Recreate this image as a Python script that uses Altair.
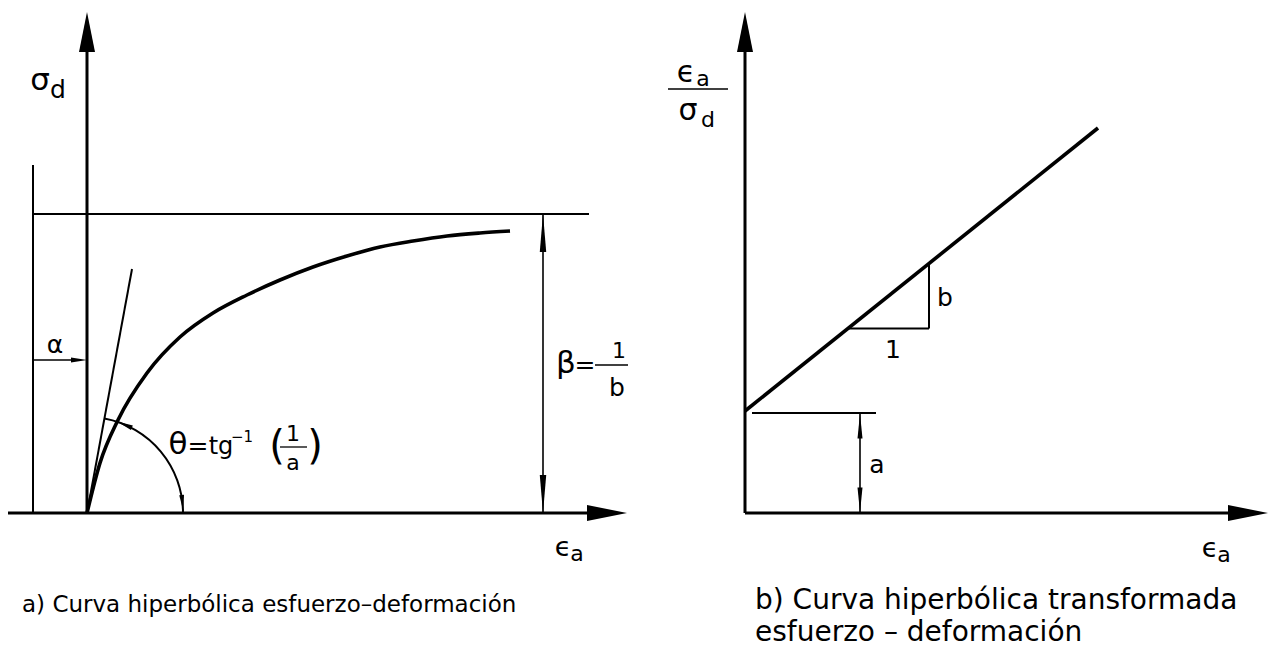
import math
import altair as alt
import pandas as pd

FONT = "DejaVu Sans"
INK = "black"

# ---------------- panel a) hyperbolic stress-strain curve ----------------
# strain (eps_a) and deviator stress (sigma_d), arbitrary units
curve_eps = [0, 13, 31, 60, 93, 126, 160, 193, 226, 260, 293, 326, 360, 393, 423]
curve_sig = [0, 50, 93, 140, 176, 200, 218, 233, 246, 257, 266, 272, 277, 280, 282]
beta_level = 299            # asymptote 1/b
tangent_eps = 45            # initial tangent, slope 1/a
tangent_sig = 244
theta_radius = 96
alpha_level = 153

# ---------------- panel b) transformed hyperbola ----------------
line_eps = [0, 353]
line_ratio = [102, 385]     # eps/sigma = a + b*eps
slope_run = [103, 184]      # the "1" leg of the slope triangle
a_marker_eps = 115

XDOM_A = [-87, 613]
XDOM_B = [-45, 539]
YDOM = [-144, 513]

NO_FRAME = alt.ViewBackground(stroke="transparent", strokeWidth=0)


def enc_xy(xdom):
    return (alt.X("x:Q", scale=alt.Scale(domain=xdom, nice=False, zero=False), axis=None),
            alt.Y("y:Q", scale=alt.Scale(domain=YDOM, nice=False, zero=False), axis=None))


def segments(rows, xdom, width):
    df = pd.DataFrame(rows, columns=["x", "y", "x2", "y2"])
    x, y = enc_xy(xdom)
    return alt.Chart(df).mark_rule(color=INK, strokeWidth=width, strokeCap="butt").encode(
        x=x, y=y, x2="x2:Q", y2="y2:Q")


def heads(rows, xdom, shape, size):
    df = pd.DataFrame(rows, columns=["x", "y", "rot"])
    x, y = enc_xy(xdom)
    return alt.Chart(df).mark_point(shape=shape, size=size, filled=True, color=INK,
                                    opacity=1, strokeWidth=0).encode(
        x=x, y=y, angle=alt.Angle("rot:Q", scale=None))


def texts(rows, xdom, size, align="center"):
    df = pd.DataFrame(rows, columns=["t", "x", "y"])
    x, y = enc_xy(xdom)
    return alt.Chart(df).mark_text(font=FONT, fontSize=size, align=align,
                                   baseline="middle", color=INK).encode(
        x=x, y=y, text="t:N")


BIG = "M0,-1L0.4,1L-0.4,1Z"
SLIM = "M0,-1L0.17,1L-0.17,1Z"
MID = "M0,-1L0.2,1L-0.2,1Z"
SMALL = "M0,-1L0.3,1L-0.3,1Z"

# ---- panel a layers ----
xa, ya = enc_xy(XDOM_A)
curve_df = pd.DataFrame({"x": curve_eps, "y": curve_sig})
curve_a = alt.Chart(curve_df).mark_line(color=INK, strokeWidth=3.6, interpolate="monotone").encode(x=xa, y=ya)

th_start = math.atan2(tangent_eps, tangent_sig)
arc_a = alt.Chart(pd.DataFrame({"x": [0], "y": [0]})).mark_arc(
    theta=th_start, theta2=math.pi / 2, innerRadius=theta_radius - 1,
    outerRadius=theta_radius + 1, color=INK).encode(x=xa, y=ya)

axes_a = segments([[0, 0, 0, 470], [-79, 0, 0, 0], [0, 0, 505, 0]], XDOM_A, 3)
thin_a = segments([[-54, 0, -54, 348], [-54, beta_level, 502, beta_level],
                   [0, 0, tangent_eps, tangent_sig]], XDOM_A, 2)
dims_a = segments([[456, 0, 456, beta_level], [-54, alpha_level, -8, alpha_level]], XDOM_A, 1.6)
fracs_a = segments([[193, 66, 220, 66], [508, 148, 541, 148]], XDOM_A, 1.3)

phi_top = math.radians(67)
phi_bot = math.radians(6)
heads_a = [
    heads([[0, 481, 0], [520, 0, 90]], XDOM_A, BIG, 1600),
    heads([[456, beta_level - 19, 0], [456, 19, 180]], XDOM_A, SLIM, 1444),
    heads([[-8, alpha_level, 90],
           [theta_radius * math.cos(phi_top), theta_radius * math.sin(phi_top), 360 - 67],
           [theta_radius * math.cos(phi_bot), theta_radius * math.sin(phi_bot), 180 - 6]],
          XDOM_A, SMALL, 256),
]

text_a = [
    texts([["σ", -47, 432], ["θ", 91, 68], ["β", 479, 149]], XDOM_A, 31),
    texts([["d", -29, 423], ["=", 111, 67], ["=", 498, 148], ["b", 530, 125], ["α", -32, 168]], XDOM_A, 25),
    texts([["tg", 134, 66]], XDOM_A, 24),
    texts([["ϵ", 476, -35]], XDOM_A, 27),
    texts([["−1", 155, 76]], XDOM_A, 15),
    texts([["(", 190, 66], [")", 228, 66]], XDOM_A, 40),
    texts([["1", 206, 79], ["a", 206, 50], ["1", 532, 162], ["a", 490, -41]], XDOM_A, 22),
    texts([["a) Curva hiperbólica esfuerzo–deformación", -65, -92]], XDOM_A, 23, align="left"),
]

left = alt.layer(axes_a, thin_a, dims_a, fracs_a, curve_a, arc_a, *heads_a, *text_a).properties(
    width=700, height=657, view=NO_FRAME)

# ---- panel b layers ----
xb, yb = enc_xy(XDOM_B)
line_df = pd.DataFrame({"x": line_eps, "y": line_ratio})
line_b = alt.Chart(line_df).mark_line(color=INK, strokeWidth=3.6).encode(x=xb, y=yb)

rise_top = line_ratio[0] + (line_ratio[1] - line_ratio[0]) / line_eps[1] * slope_run[1]
run_level = line_ratio[0] + (line_ratio[1] - line_ratio[0]) / line_eps[1] * slope_run[0]

axes_b = segments([[0, 0, 0, 470], [0, 0, 490, 0]], XDOM_B, 3)
thin_b = segments([[slope_run[0], run_level, slope_run[1], run_level],
                   [slope_run[1], run_level, slope_run[1], rise_top],
                   [7, line_ratio[0] - 2, 131, line_ratio[0] - 2]], XDOM_B, 2)
dims_b = segments([[a_marker_eps, 0, a_marker_eps, line_ratio[0] - 2]], XDOM_B, 1.6)
fracs_b = segments([[-77, 424, -17, 424]], XDOM_B, 1.6)

heads_b = [
    heads([[0, 481, 0], [503, 0, 90]], XDOM_B, BIG, 1600),
    heads([[a_marker_eps, line_ratio[0] - 15, 0], [a_marker_eps, 13, 180]], XDOM_B, MID, 625),
]

text_b = [
    texts([["ϵ", -59, 440], ["σ", -57, 402]], XDOM_B, 30),
    texts([["a", -42, 434], ["d", -37, 393], ["a", 479, -42]], XDOM_B, 22),
    texts([["a", 132, 48], ["b", 200, 215], ["1", 148, 163]], XDOM_B, 25),
    texts([["ϵ", 465, -36]], XDOM_B, 27),
    texts([["b) Curva hiperbólica transformada", 10, -88],
           ["esfuerzo – deformación", 10, -120]], XDOM_B, 28, align="left"),
]

right = alt.layer(axes_b, thin_b, dims_b, fracs_b, line_b, *heads_b, *text_b).properties(
    width=584, height=657, view=NO_FRAME)

chart = alt.hconcat(left, right, spacing=0, padding=0, bounds="flush").configure_view(
    stroke="transparent", strokeWidth=0).configure(background="white")

chart.save("out.html", embed_options={"renderer": "svg", "actions": False})
